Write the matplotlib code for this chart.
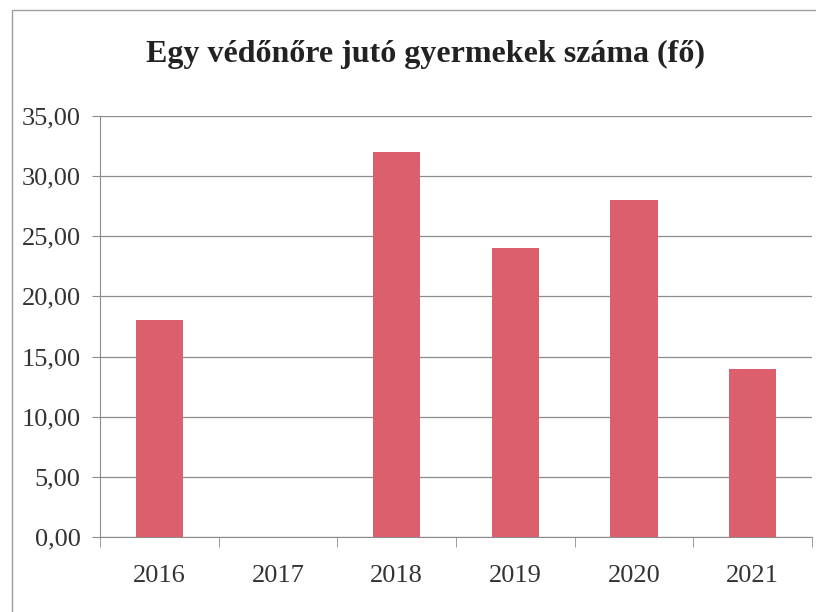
import matplotlib
matplotlib.use("Agg")
import matplotlib.pyplot as plt
from matplotlib.patches import Rectangle
from matplotlib.ticker import FuncFormatter

years = ['2016', '2017', '2018', '2019', '2020', '2021']
children_per_nurse = [18.0, 0.0, 32.0, 24.0, 28.0, 14.0]

plt.rcParams['font.family'] = ['Liberation Serif', 'DejaVu Serif']

fig = plt.figure(figsize=(8.16, 6.12), dpi=100)
# outer chart frame (as pasted from the spreadsheet)
fig.patches.append(Rectangle((12/816, -0.1), 1.2, 1 - 10/612 + 0.1, transform=fig.transFigure,
                             fill=False, edgecolor='#a0a0a0', linewidth=1.0))

ax = fig.add_axes([100/816, (612-537)/612, (812-100)/816, (537-116)/612])

x = range(len(years))
ax.bar(x, children_per_nurse, width=0.4, color='#DC5F6E', zorder=3)

ax.set_xlim(-0.5, len(years) - 0.5)
ax.set_ylim(0, 35)
ax.set_yticks(range(0, 36, 5))
ax.yaxis.set_major_formatter(FuncFormatter(lambda v, p: '{:.2f}'.format(v).replace('.', ',')))
ax.set_xticks(list(x))
ax.set_xticklabels(years)
ax.set_xticks([i - 0.5 for i in range(len(years) + 1)], minor=True)

ax.grid(axis='y', color='#8c8c8c', linewidth=0.9, zorder=0)
for s in ['top', 'right']:
    ax.spines[s].set_visible(False)
ax.spines['left'].set_color('#8c8c8c')
ax.spines['bottom'].set_color('#8c8c8c')

ax.tick_params(axis='y', length=6, color='#8c8c8c', labelsize=19, labelcolor='#333333', pad=8)
ax.tick_params(axis='x', which='major', length=0, labelsize=19, labelcolor='#333333', pad=20)
ax.tick_params(axis='x', which='minor', length=7, color='#8c8c8c')

fig.text(425/816, 1 - 54/612, 'Egy védőnőre jutó gyermekek száma (fő)', ha='center', va='center',
         fontsize=23, fontweight='bold', color='#222222')

fig.savefig('out.png', dpi=100)
